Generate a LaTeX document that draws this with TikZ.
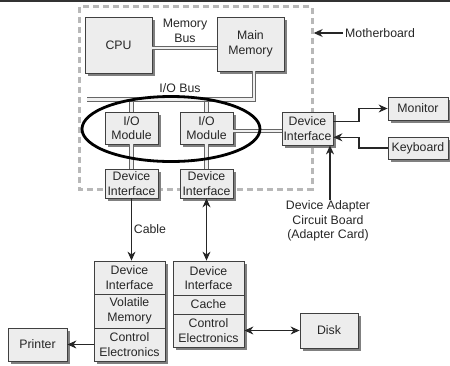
\documentclass[tikz,border=0pt]{standalone}
\usepackage{fontspec}
\setmainfont{Liberation Sans}
\usetikzlibrary{shadows,arrows.meta,calc}
\begin{document}
\begin{tikzpicture}[x=1pt,y=-1pt,
  font=\fontsize{12.3}{14.6}\selectfont,
  txt/.style={text=black!85, align=center},
  box/.style={draw=black!75, line width=0.8pt, fill=black!7, text=black!85, align=center, inner sep=0pt,
    drop shadow={shadow xshift=2.5pt, shadow yshift=-2.5pt, fill=black!50, opacity=1}},
  bus/.style={draw=black!60, double=black!6, double distance=2.4pt, line width=0.9pt},
  arr/.style={draw=black!85, line width=1.1pt, -{Stealth[length=9pt,width=8pt]}},
  barr/.style={draw=black!85, line width=1.1pt, {Stealth[length=9pt,width=8pt]}-{Stealth[length=9pt,width=8pt]}},
  mbline/.style={draw=black!28, line width=3pt, dash pattern=on 6pt off 4pt},
]
\useasboundingbox (0,0) rectangle (450,365);
\draw[black!80, line width=1.6pt] (0,0.8) -- (450,0.8);

% motherboard
\node[minimum width=232pt, minimum height=182pt, inner sep=0pt] (mb) at (196,98) {};
\draw[mbline] (mb.north west) rectangle (mb.south east);

% buses
\coordinate (busL) at (87,99.5);
\coordinate (busR) at (254,99.5);

\node[box, minimum width=67pt, minimum height=56pt] (cpu) at (118.5,45) {CPU};
\node[box, minimum width=67pt, minimum height=54pt] (mm) at (250.5,44) {Main\\Memory};
\node[box, minimum width=53pt, minimum height=32pt] (iom1) at (131.5,128) {I/O\\Module};
\node[box, minimum width=53pt, minimum height=32pt] (iom2) at (206.5,128) {I/O\\Module};
\node[box, minimum width=53pt, minimum height=29pt] (di1) at (131.5,183.5) {Device\\Interface};
\node[box, minimum width=53pt, minimum height=29pt] (di2) at (206.5,183.5) {Device\\Interface};
\node[box, minimum width=51pt, minimum height=33pt] (dir) at (307.5,128.5) {Device\\Interface};
\node[box, minimum width=60pt, minimum height=23pt] (mon) at (418,108.5) {Monitor};
\node[box, minimum width=60pt, minimum height=22pt] (kbd) at (418,148) {Keyboard};

\draw[bus] (cpu.east |- 0,48) -- (mm.west |- 0,48);
\draw[bus] (iom1.north) -- (iom1.north |- busL);
\draw[bus] (iom2.north) -- (iom2.north |- busL);
\draw[bus] (busL) -- (busR) -- (busR |- mm.south);
\draw[bus] (iom1.south) -- (di1.north);
\draw[bus] (iom2.south) -- (di2.north);
\draw[bus] (iom2.east |- 0,130.7) -- (dir.west |- 0,130.7);

% stacks
\node[box, minimum width=71pt, minimum height=33pt] (s1a) at (129.5,277.5) {Device\\Interface};
\node[box, minimum width=71pt, minimum height=34pt] (s1b) at (129.5,311) {Volatile\\Memory};
\node[box, minimum width=71pt, minimum height=33pt] (s1c) at (129.5,344.5) {Control\\Electronics};
\node[box, minimum width=71pt, minimum height=34pt] (s2a) at (208.5,278) {Device\\Interface};
\node[box, minimum width=71pt, minimum height=19pt] (s2b) at (208.5,304.5) {Cache};
\node[box, minimum width=71pt, minimum height=33pt] (s2c) at (208.5,330.5) {Control\\Electronics};
\node[box, minimum width=58pt, minimum height=35pt] (disk) at (329,330.5) {Disk};
\node[box, minimum width=59pt, minimum height=33pt] (printer) at (37.5,344.5) {Printer};

% labels
\node[txt] (membus) at (185,31) {Memory\\Bus};
\node[txt] (iobus) at (180,88) {I/O Bus};
\node[txt] (cable) at (150,229) {Cable};
\node[txt, anchor=west, inner sep=2pt] (mblabel) at (343,33) {Motherboard};
\node[txt, inner sep=0pt] (adapter) at (328,221) {Device Adapter\\Circuit Board\\(Adapter Card)};

% ellipse
\draw[black, line width=2.8pt] (171,129) ellipse [x radius=89, y radius=32.5];

% arrows
\draw[arr] (mblabel.west) -- ([xshift=1.5pt]mb.east |- mblabel.west);
\draw[arr] (dir.east |- 0,121.7) -- (359,121.7) |- (mon.west);
\draw[arr] (kbd.west) -| (359,137.3) -- (dir.east |- 0,137.3);
\draw[arr] (adapter.north -| 330,0) -- (dir.south -| 330,0);
\draw[arr] (di1.south) -- (di1.south |- s1a.north);
\draw[barr] (di2.south) -- (di2.south |- s2a.north);
\draw[barr] (s2c.east) -- (disk.west);
\draw[arr] (s1c.west) -- (printer.east);
\end{tikzpicture}
\end{document}
